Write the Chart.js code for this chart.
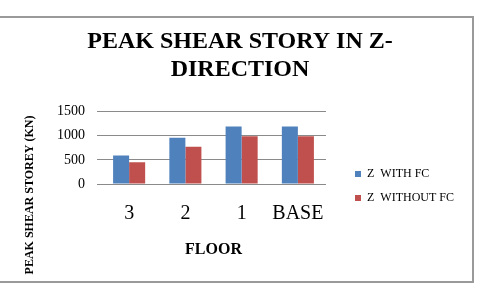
<!DOCTYPE html>
<html>
<head>
<meta charset="utf-8">
<script src="https://cdn.jsdelivr.net/npm/chart.js@4/dist/chart.umd.min.js"></script>
<style>
html,body{margin:0;padding:0;background:#fff;}
#wrap{width:480px;height:288px;position:relative;}
</style>
</head>
<body>
<div id="wrap"><canvas id="c" width="480" height="288"></canvas></div>
<script>
const chartTitle = ['PEAK SHEAR STORY IN Z-', 'DIRECTION'];
const floors = ['3', '2', '1', 'BASE'];
const withFC = [590, 960, 1190, 1190];
const withoutFC = [450, 770, 990, 990];
const seriesNames = ['Z  WITH FC', 'Z  WITHOUT FC'];
const xTitle = 'FLOOR';
const yTitle = 'PEAK SHEAR STOREY (KN)';
const yTicks = [0, 500, 1000, 1500];

const SERIF = "'Liberation Serif', 'Times New Roman', serif";

const framePlugin = {
  id: 'frame',
  beforeDraw(chart) {
    const ctx = chart.ctx;
    ctx.save();
    ctx.fillStyle = '#fff';
    ctx.fillRect(0, 0, chart.width, chart.height);
    ctx.strokeStyle = '#9a9a9a';
    ctx.lineWidth = 2;
    ctx.beginPath();
    ctx.moveTo(0, 17);
    ctx.lineTo(473, 17);
    ctx.lineTo(473, 282);
    ctx.lineTo(0, 282);
    ctx.stroke();
    ctx.restore();
  }
};

const yTitlePlugin = {
  id: 'yTitle',
  afterDraw(chart) {
    const ctx = chart.ctx;
    ctx.save();
    ctx.translate(30, 195);
    ctx.rotate(-Math.PI / 2);
    ctx.font = 'bold 12px ' + SERIF;
    ctx.fillStyle = '#000';
    ctx.textAlign = 'center';
    ctx.textBaseline = 'middle';
    ctx.fillText(yTitle, 0, 0);
    ctx.restore();
  }
};

const legendPlace = {
  id: 'legendPlace',
  afterLayout(chart) {
    const l = chart.legend;
    if (!l) return;
    const h = l.bottom - l.top;
    l.top = 156;
    l.bottom = 156 + h;
    l.left = 343;
    l.right = 478;
  }
};

new Chart(document.getElementById('c'), {
  type: 'bar',
  data: {
    labels: floors,
    datasets: [
      { label: seriesNames[0], data: withFC, backgroundColor: '#4F81BD', yAxisID: 'y' },
      { label: seriesNames[1], data: withoutFC, backgroundColor: '#C0504D', yAxisID: 'y' }
    ]
  },
  plugins: [framePlugin, yTitlePlugin, legendPlace],
  options: {
    responsive: false,
    animation: false,
    devicePixelRatio: 1,
    layout: { padding: 0 },
    datasets: { bar: { categoryPercentage: 0.57, barPercentage: 1.0 } },
    plugins: {
      title: {
        display: true,
        text: chartTitle,
        color: '#000',
        font: { family: SERIF, size: 24, weight: 'bold', lineHeight: 1.2 },
        padding: { top: 27, bottom: 27 }
      },
      legend: {
        display: true,
        position: 'right',
        align: 'start',
        maxWidth: 60,
        labels: {
          boxWidth: 6,
          boxHeight: 6,
          padding: 12,
          color: '#000',
          font: { family: SERIF, size: 12 }
        }
      },
      tooltip: { enabled: false }
    },
    scales: {
      x: {
        grid: { display: false, drawTicks: false },
        border: { display: false },
        ticks: {
          color: '#000', padding: 18, font: { family: SERIF, size: 20 },
          maxRotation: 0, minRotation: 0, autoSkip: false
        },
        title: {
          display: true,
          text: xTitle,
          color: '#000',
          font: { family: SERIF, size: 16, weight: 'bold' },
          padding: { top: 0, bottom: 29 }
        },
        afterFit(s) { s.height = 104; }
      },
      y: {
        min: 0,
        max: 1500,
        afterBuildTicks(s) { s.ticks = yTicks.map(v => ({ value: v })); },
        grid: { color: '#8a8a8a', lineWidth: 1, tickLength: 4, drawTicks: true },
        border: { display: false },
        ticks: {
          color: '#000', padding: 12, font: { family: SERIF, size: 14 },
          callback: (v) => String(v)
        },
        afterFit(s) { s.width = 101; }
      },
      gap: {
        position: 'right',
        display: true,
        grid: { display: false, drawTicks: false },
        border: { display: false },
        ticks: { display: false },
        afterFit(s) { s.width = 94; }
      }
    }
  }
});
</script>
</body>
</html>
